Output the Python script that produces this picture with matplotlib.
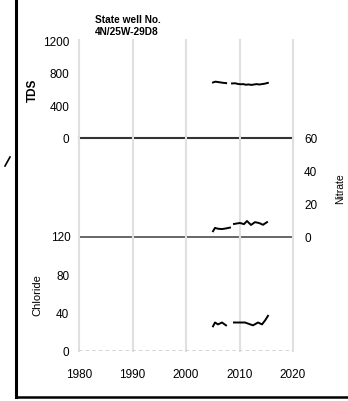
import numpy as np
import matplotlib
matplotlib.use("Agg")
import matplotlib.pyplot as plt
from matplotlib.lines import Line2D

plt.rcParams['font.family'] = ['Liberation Sans', 'DejaVu Sans']

# ---- data ----
tds_years = [2005.05, 2005.5, 2006.0, 2006.5, 2007.0, 2007.5, np.nan,
             2008.6, 2009.2, 2009.7, 2010.2, 2010.7, 2011.2, 2011.7,
             2012.2, 2012.7, 2013.2, 2013.7, 2014.2, 2014.7, 2015.3]
tds_vals = [680, 690, 685, 680, 675, 672, np.nan,
            668, 670, 662, 658, 660, 652, 656, 650, 655, 660, 655, 660, 665, 675]

nit_years = [2005.05, 2005.42, 2006.0, 2006.73, 2007.48, 2008.22, np.nan,
             2008.97, 2010.09, 2010.84, 2011.4, 2012.15, 2012.9, 2013.64, 2014.39, 2015.14]
nit_vals = [3.5, 5.5, 5.0, 4.8, 5.2, 5.7, np.nan,
            7.9, 8.5, 7.8, 9.7, 7.3, 9.0, 8.5, 7.4, 9.0]

cl_years = [2005.05, 2005.42, 2005.98, 2006.73, 2007.48, np.nan,
            2008.97, 2011.03, 2012.52, 2013.46, 2014.2, 2014.76, 2015.32]
cl_vals = [26, 30, 28, 30, 27, np.nan,
           30, 30, 27, 30, 28, 32, 37]

x_ticks = [1980, 1990, 2000, 2010, 2020]
tds_ticks = [0, 400, 800, 1200]
nit_ticks = [0, 20, 40, 60]
cl_ticks = [0, 40, 80, 120]

W, H = 348, 402
fig = plt.figure(figsize=(W / 100, H / 100), dpi=100)

def fx(px):
    return px / W

def fy(py):
    return 1 - py / H

left, right = 79, 293
ax_tds = fig.add_axes([fx(left), fy(139), fx(right - left), fy(41) - fy(139)])
ax_nit = fig.add_axes([fx(left), fy(238), fx(right - left), fy(139) - fy(238)])
ax_cl = fig.add_axes([fx(left), fy(352), fx(right - left), fy(238) - fy(352)])

fs = 8.5
grid_col = '#e0e0e0'
for ax in (ax_tds, ax_nit, ax_cl):
    ax.set_xlim(1980, 2020)
    for s in ax.spines.values():
        s.set_visible(False)
    for xt in x_ticks:
        ax.axvline(xt, color=grid_col, lw=1.5, zorder=0, clip_on=False)
    ax.tick_params(length=0, labelsize=fs)
    ax.set_xticks(x_ticks)
    ax.tick_params(axis='x', labelbottom=False)
    ax.patch.set_alpha(0)

# TDS panel
ax_tds.plot(tds_years, tds_vals, color='black', lw=1.4)
ax_tds.set_ylim(0, 1200)
ax_tds.set_yticks(tds_ticks)
ax_tds.tick_params(axis='y', pad=7)
ax_tds.axhline(0, color='#333333', lw=1.5, zorder=1, clip_on=False)
ax_tds.set_ylabel('TDS', fontsize=8.5, fontweight='bold', labelpad=3)

# Nitrate panel
ax_nit.plot(nit_years, nit_vals, color='black', lw=1.4)
ax_nit.set_ylim(0, 60)
ax_nit.set_yticks(nit_ticks)
ax_nit.yaxis.tick_right()
ax_nit.yaxis.set_label_position('right')
ax_nit.tick_params(axis='y', pad=8)
ax_nit.axhline(0, color='#666666', lw=1.4, zorder=1, clip_on=False)
ax_nit.set_ylabel('Nitrate', fontsize=7.5, labelpad=13)

# Chloride panel
ax_cl.plot(cl_years, cl_vals, color='black', lw=1.4)
ax_cl.set_ylim(0, 120)
ax_cl.set_yticks(cl_ticks[:-1])
ax_cl.tick_params(axis='y', pad=7)
ax_cl.axhline(0, color='#cccccc', lw=1.2, ls=(0, (2, 2)), zorder=1)
ax_cl.tick_params(axis='x', labelbottom=True, pad=12)
ax_cl.set_ylabel('Chloride', fontsize=8, labelpad=10)
ax_cl.text(-0.04, 1.0, '120', transform=ax_cl.transAxes, ha='right', va='center', fontsize=fs)

# title text
fig.text(fx(95), fy(20), 'State well No.', fontsize=7.3, fontweight='bold', ha='left', va='center')
fig.text(fx(95), fy(32), '4N/25W-29D8', fontsize=7.3, fontweight='bold', ha='left', va='center')

# frame decorations
fig.add_artist(Line2D([fx(16), fx(16)], [fy(0), fy(398)], color='black', lw=2.2, transform=fig.transFigure))
fig.add_artist(Line2D([fx(16), fx(348)], [fy(398), fy(398)], color='black', lw=1.8, transform=fig.transFigure))
fig.add_artist(Line2D([fx(5), fx(10)], [fy(167), fy(158)], color='black', lw=1.2, transform=fig.transFigure))

fig.savefig('out.png', dpi=100)
